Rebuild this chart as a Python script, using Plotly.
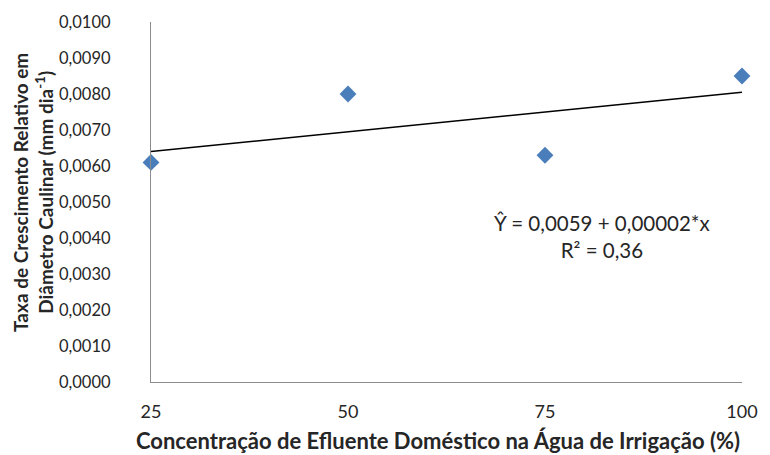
import numpy as np
import plotly.graph_objects as go

# Concentração de efluente (%) e taxa de crescimento relativo em diâmetro caulinar
concentracao = [25, 50, 75, 100]
taxa = [0.0061, 0.0080, 0.0063, 0.0085]

y_ticks = [0.0, 0.001, 0.002, 0.003, 0.004, 0.005, 0.006, 0.007, 0.008, 0.009, 0.010]
x_ticks = [25, 50, 75, 100]

equacao = "Ŷ = 0,0059 + 0,00002*x"
r2_texto = "R² = 0,36"

# Linear trend fitted to the observed points
coef = np.polyfit(concentracao, taxa, 1)
x_fit = [concentracao[0], concentracao[-1]]
y_fit = [float(np.polyval(coef, v)) for v in x_fit]

FONT = "Lato"
AXIS_COLOR = "#8c8c8c"
TEXT_COLOR = "#262626"

fig = go.Figure()

fig.add_trace(go.Scatter(
    x=x_fit, y=y_fit, mode="lines",
    line=dict(color="#000000", width=1.5),
    showlegend=False, hoverinfo="skip",
))

fig.add_trace(go.Scatter(
    x=concentracao, y=taxa, mode="markers",
    marker=dict(symbol="diamond", size=13, color="#4a7ebb"),
    cliponaxis=False, showlegend=False,
))

fig.update_layout(
    width=770, height=455,
    margin=dict(l=151, r=21, t=21, b=73),
    paper_bgcolor="white", plot_bgcolor="white",
    separators=",.",
    font=dict(family=FONT, size=16, color=TEXT_COLOR),
    xaxis=dict(
        range=[25, 100], tickvals=x_ticks, showgrid=False, zeroline=False,
        showline=True, linecolor=AXIS_COLOR, linewidth=1.3,
        ticks="", ticklabelstandoff=13,
        tickfont=dict(family=FONT, size=18, color=TEXT_COLOR),
    ),
    yaxis=dict(
        range=[0, 0.010], tickvals=y_ticks, tickformat=".4f",
        showgrid=False, zeroline=False,
        showline=True, linecolor=AXIS_COLOR, linewidth=1.3,
        ticks="", ticklabelstandoff=36,
        tickfont=dict(family=FONT, size=16.5, color=TEXT_COLOR),
    ),
)

# Axis titles
fig.add_annotation(
    xref="paper", yref="paper", x=(441 - 151) / 598, y=(382 - 441) / 361,
    xanchor="center", yanchor="middle", showarrow=False,
    text="<b>Concentração de Efluente Doméstico na Água de Irrigação (%)</b>",
    font=dict(family=FONT, size=22, color=TEXT_COLOR),
)
fig.add_annotation(
    xref="paper", yref="paper", x=(31 - 151) / 598, y=(382 - 192) / 361,
    xanchor="center", yanchor="middle", showarrow=False, textangle=-90,
    text="<b>Taxa de Crescimento Relativo em<br>Diâmetro Caulinar (mm dia<sup>-1</sup>)</b>",
    font=dict(family=FONT, size=19, color=TEXT_COLOR),
)

# Regression equation
fig.add_annotation(
    xref="paper", yref="paper", x=(607 - 151) / 598, y=(382 - 236) / 361,
    xanchor="center", yanchor="middle", showarrow=False, align="center",
    text=equacao + "<br>" + r2_texto,
    font=dict(family=FONT, size=20.5, color=TEXT_COLOR),
)

fig.write_html("out.html")
